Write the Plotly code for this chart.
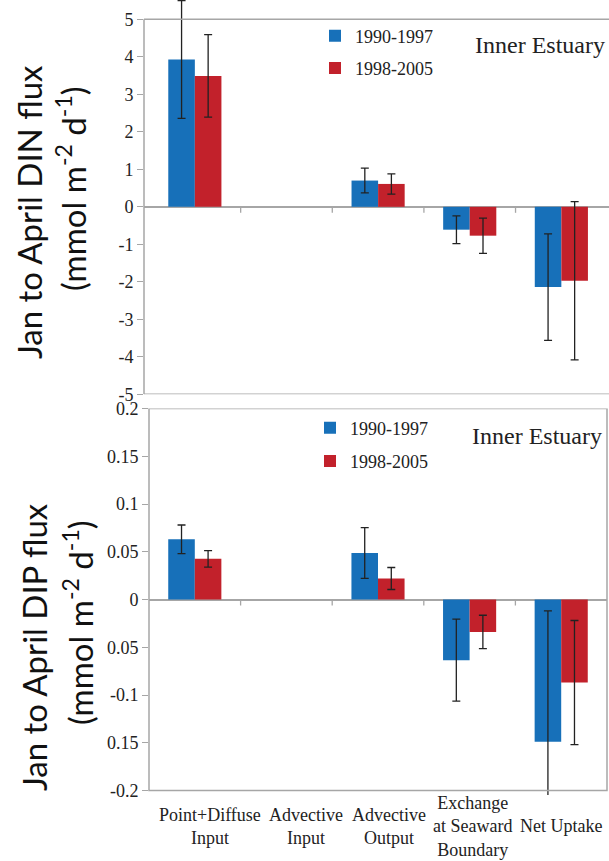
import plotly.graph_objects as go

categories = ["Point+Diffuse<br>Input", "Advective<br>Input", "Advective<br>Output",
              "Exchange<br>at Seaward<br>Boundary", "Net Uptake"]
series_names = ["1990-1997", "1998-2005"]

din_1990 = [3.93, None, 0.70, -0.61, -2.14]
din_1990_err = [1.57, None, 0.33, 0.37, 1.42]
din_1998 = [3.49, None, 0.61, -0.77, -1.97]
din_1998_err = [1.10, None, 0.27, 0.47, 2.11]

dip_1990 = [0.063, None, 0.0487, -0.0635, -0.149]
dip_1990_err = [0.015, None, 0.0265, 0.043, 0.137]
dip_1998 = [0.0426, None, 0.022, -0.034, -0.087]
dip_1998_err = [0.0086, None, 0.0115, 0.0175, 0.065]

din_tickvals = [5, 4, 3, 2, 1, 0, -1, -2, -3, -4, -5]
din_ticktext = ["5", "4", "3", "2", "1", "0", "-1", "-2", "-3", "-4", "-5"]
dip_tickvals = [0.2, 0.15, 0.1, 0.05, 0, -0.05, -0.1, -0.15, -0.2]
dip_ticktext = ["0.2", "0.15", "0.1", "0.05", "0", "0.05", "-0.1", "0.15", "-0.2"]

BLUE = "#1770b9"
RED = "#c2212b"
AXC = "#a6a6a6"
TXT = "#222222"
SERIF = "Liberation Serif"
SANS = "Lato"

W, H = 609, 861
x = list(range(len(categories)))

fig = go.Figure()

def add(vals, errs, name, color, xa, ya, legend):
    fig.add_trace(go.Bar(
        x=x, y=vals, name=name, marker=dict(color=color, line=dict(width=0)),
        error_y=dict(type="data", array=errs, color=TXT, thickness=1.3, width=4),
        xaxis=xa, yaxis=ya, legend=legend, legendgroup=name + legend,
    ))

add(din_1990, din_1990_err, series_names[0], BLUE, "x", "y", "legend")
add(din_1998, din_1998_err, series_names[1], RED, "x", "y", "legend")
add(dip_1990, dip_1990_err, series_names[0], BLUE, "x2", "y2", "legend2")
add(dip_1998, dip_1998_err, series_names[1], RED, "x2", "y2", "legend2")

def py(p):  # pixel from top -> paper y
    return 1 - p / H

def px(p):
    return p / W

tickfont = dict(family=SERIF, size=18, color=TXT)

fig.update_layout(
    width=W, height=H, margin=dict(l=0, r=0, t=0, b=0, autoexpand=False),
    paper_bgcolor="white", plot_bgcolor="white",
    barmode="group", bargap=0.42, bargroupgap=0,
    xaxis=dict(domain=[px(144), 1.0], range=[-0.555, 4.52], showticklabels=False,
               showgrid=False, zeroline=False, showline=False, ticks="", automargin=False),
    yaxis=dict(domain=[py(394.3), 1.0], range=[-5, 5.515], tickvals=din_tickvals,
               ticktext=din_ticktext,
               tickfont=tickfont, ticks="outside", ticklen=6, tickcolor=AXC, tickwidth=1.3,
               showgrid=False, showline=False, zeroline=True, zerolinecolor=AXC,
               zerolinewidth=1.5, automargin=False),
    xaxis2=dict(domain=[px(149), px(607)], range=[-0.5, 4.5], showticklabels=False,
                showgrid=False, zeroline=False, showline=False, ticks="", anchor="y2",
                automargin=False),
    yaxis2=dict(domain=[py(795), py(408.5)], range=[-0.2047, 0.2], tickvals=dip_tickvals,
                ticktext=dip_ticktext, tickfont=tickfont, ticks="outside", ticklen=6,
                tickcolor=AXC, tickwidth=1.3, showgrid=False, showline=False,
                zeroline=True, zerolinecolor=AXC, zerolinewidth=1.5, anchor="x2",
                automargin=False),
    legend=dict(x=px(315), y=py(17.5), xanchor="left", yanchor="top",
                bgcolor="rgba(0,0,0,0)", font=dict(family=SERIF, size=18, color=TXT),
                traceorder="grouped", tracegroupgap=6),
    legend2=dict(x=px(310), y=py(409.5), xanchor="left", yanchor="top",
                 bgcolor="rgba(0,0,0,0)", font=dict(family=SERIF, size=18, color=TXT),
                 traceorder="grouped", tracegroupgap=7),
)

shapes = []
line = dict(color=AXC, width=1.5)
# top panel frame: left, top, bottom
shapes += [
    dict(type="line", xref="x domain", yref="y", x0=0, x1=0, y0=-5, y1=5, line=line),
    dict(type="line", xref="x domain", yref="y", x0=0, x1=1, y0=5, y1=5, line=line),
    dict(type="line", xref="x domain", yref="y", x0=0, x1=1, y0=-5, y1=-5, line=line),
]
# bottom panel frame
shapes += [
    dict(type="rect", xref="x2 domain", yref="y2", x0=0, x1=1, y0=-0.2, y1=0.2,
         line=line, fillcolor="rgba(0,0,0,0)"),
]
# category boundary ticks on the zero line
for b in range(len(categories) - 1):
    for xr, yr in (("x", "y"), ("x2", "y2")):
        shapes.append(dict(type="line", xref=xr, yref=yr, x0=b + 0.5, x1=b + 0.5,
                           ysizemode="pixel", yanchor=0, y0=0, y1=-6,
                           line=dict(color=AXC, width=1.3)))
fig.update_layout(shapes=shapes)

ann = []
title_font = dict(family=SANS, size=33, color="#111111")
ann += [
    dict(text="Jan to April DIN flux", x=px(29), y=py(212), xref="paper", yref="paper",
         textangle=-90, showarrow=False, font=title_font, xanchor="center", yanchor="middle"),
    dict(text="(mmol m<sup>-2</sup> d<sup>-1</sup>)", x=px(71), y=py(189), xref="paper",
         yref="paper", textangle=-90, showarrow=False, font=title_font,
         xanchor="center", yanchor="middle"),
    dict(text="Jan to April DIP flux", x=px(34), y=py(647), xref="paper", yref="paper",
         textangle=-90, showarrow=False, font=title_font, xanchor="center", yanchor="middle"),
    dict(text="(mmol m<sup>-2</sup> d<sup>-1</sup>)", x=px(78), y=py(623), xref="paper",
         yref="paper", textangle=-90, showarrow=False, font=title_font,
         xanchor="center", yanchor="middle"),
    dict(text="Inner Estuary", x=px(540), y=py(45), xref="paper", yref="paper",
         showarrow=False, font=dict(family=SERIF, size=24, color=TXT),
         xanchor="center", yanchor="middle"),
    dict(text="Inner Estuary", x=px(537), y=py(436), xref="paper", yref="paper",
         showarrow=False, font=dict(family=SERIF, size=24, color=TXT),
         xanchor="center", yanchor="middle"),
]
label_shift = [15, 20, 11, 3, 0]
for i, c in enumerate(categories):
    ann.append(dict(text=c, x=i, xref="x2", y=py(826), yref="paper", xshift=label_shift[i],
                    showarrow=False, font=dict(family=SERIF, size=18, color=TXT),
                    xanchor="center", yanchor="middle"))
fig.update_layout(annotations=ann)

fig.write_html("out.html", post_script="document.body.style.margin='0';")
